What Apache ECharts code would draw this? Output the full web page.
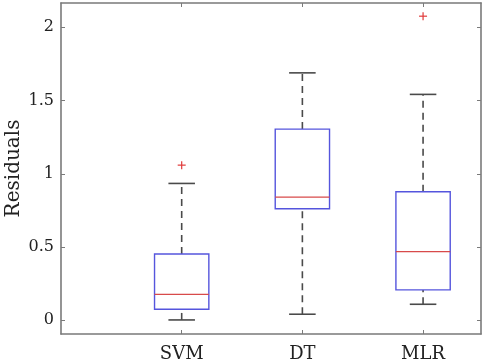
<!DOCTYPE html>
<html>
<head>
<meta charset="utf-8">
<script src="https://cdn.jsdelivr.net/npm/echarts@6/dist/echarts.min.js"></script>
<style>html,body{margin:0;padding:0;background:#fff}#c{width:484px;height:362px}</style>
</head>
<body>
<div id="c"></div>
<script>
const categories = ['SVM', 'DT', 'MLR'];
const lowerWhisker = [0.002, 0.041, 0.109];
const q1 = [0.075, 0.761, 0.207];
const median = [0.177, 0.841, 0.468];
const q3 = [0.452, 1.305, 0.877];
const upperWhisker = [0.934, 1.689, 1.542];
const outliers = [[1, 1.059], [3, 2.076]];
const yTicks = [0, 0.5, 1, 1.5, 2];
const xTicks = [1, 2, 3];

const FONT = 'DejaVu Serif';
const frame = '#7a7a7a';

const boxData = categories.map((c, i) => [i + 1, lowerWhisker[i], q1[i], median[i], q3[i], upperWhisker[i]]);

function renderBox(params, api) {
  const x = api.value(0);
  const lo = api.value(1), a = api.value(2), m = api.value(3), b = api.value(4), hi = api.value(5);
  const hb = 0.225, hc = 0.11;
  const p = (u, v) => api.coord([u, v]);
  const dashStyle = { stroke: '#4a4a4a', lineWidth: 1.6, lineDash: [7, 5] };
  const solid = { stroke: '#4a4a4a', lineWidth: 1.6 };
  const L = (p1, p2, style) => ({ type: 'line', shape: { x1: p1[0], y1: p1[1], x2: p2[0], y2: p2[1] }, style: style });
  const tl = p(x - hb, b), br = p(x + hb, a);
  return {
    type: 'group',
    children: [
      L(p(x, b), p(x, hi), dashStyle),
      L(p(x, lo), p(x, a), dashStyle),
      L(p(x - hc, hi), p(x + hc, hi), solid),
      L(p(x - hc, lo), p(x + hc, lo), solid),
      { type: 'rect', shape: { x: tl[0], y: tl[1], width: br[0] - tl[0], height: br[1] - tl[1] },
        style: { fill: 'none', stroke: '#5555dd', lineWidth: 1.4 } },
      L(p(x - hb, m), p(x + hb, m), { stroke: '#d84a4a', lineWidth: 1.3 })
    ]
  };
}

function renderOutlier(params, api) {
  const c = api.coord([api.value(0), api.value(1)]);
  const s = 4;
  const st = { stroke: '#e03a3a', lineWidth: 1.2 };
  return {
    type: 'group',
    children: [
      { type: 'line', shape: { x1: c[0] - s, y1: c[1], x2: c[0] + s, y2: c[1] }, style: st },
      { type: 'line', shape: { x1: c[0], y1: c[1] - s, x2: c[0], y2: c[1] + s }, style: st }
    ]
  };
}

const axLine = { show: true, onZero: false, lineStyle: { color: frame, width: 1.6 } };
const tickLine = { color: frame, width: 1 };

const chart = echarts.init(document.getElementById('c'), null, { renderer: 'canvas' });
chart.setOption({
  animation: false,
  backgroundColor: '#fff',
  grid: { left: 61, right: 3, top: 3, bottom: 28, containLabel: false, outerBoundsMode: 'none' },
  xAxis: [
    { type: 'value', position: 'bottom', min: 0, max: 3.48,
      axisLine: axLine,
      axisTick: { show: true, inside: true, length: 4, customValues: xTicks, lineStyle: tickLine },
      axisLabel: { show: true, customValues: xTicks, formatter: v => categories[Math.round(v) - 1] || '',
        fontFamily: FONT, fontSize: 18, color: '#222', margin: 11 },
      splitLine: { show: false } },
    { type: 'value', position: 'top', min: 0, max: 3.48,
      axisLine: axLine,
      axisTick: { show: true, inside: true, length: 4, customValues: xTicks, lineStyle: tickLine },
      axisLabel: { show: false }, splitLine: { show: false } }
  ],
  yAxis: [
    { type: 'value', position: 'left', min: -0.094, max: 2.166,
      name: 'Residuals', nameLocation: 'middle', nameGap: 37, nameRotate: 90, nameMoveOverlap: false,
      nameTextStyle: { fontFamily: FONT, fontSize: 20, color: '#222' },
      axisLine: axLine,
      axisTick: { show: true, inside: true, length: 4, customValues: yTicks, lineStyle: tickLine },
      axisLabel: { show: true, customValues: yTicks, formatter: v => String(v),
        fontFamily: FONT, fontSize: 16, color: '#222', margin: 7 },
      splitLine: { show: false } },
    { type: 'value', position: 'right', min: -0.094, max: 2.166,
      axisLine: axLine,
      axisTick: { show: true, inside: true, length: 4, customValues: yTicks, lineStyle: tickLine },
      axisLabel: { show: false }, splitLine: { show: false } }
  ],
  series: [
    { type: 'custom', renderItem: renderBox, data: boxData, xAxisIndex: 0, yAxisIndex: 0,
      encode: { x: 0, y: [1, 2, 3, 4, 5] }, clip: false },
    { type: 'custom', renderItem: renderOutlier, data: outliers, xAxisIndex: 0, yAxisIndex: 0,
      encode: { x: 0, y: 1 } }
  ]
});
</script>
</body>
</html>
